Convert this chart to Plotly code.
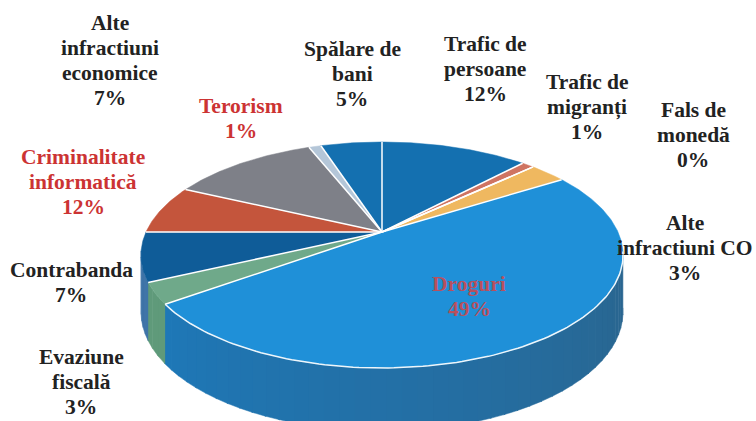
import numpy as np
import plotly.graph_objects as go

categories = ["Trafic de persoane", "Trafic de migranți", "Fals de monedă", "Alte infractiuni CO",
              "Droguri", "Evaziune fiscală", "Contrabanda", "Alte infractiuni economice",
              "Criminalitate informatică", "Terorism", "Spălare de bani"]
values = [12, 1, 0, 3, 49, 3, 7, 7, 12, 1, 5]
label_lines = [["Trafic de", "persoane"], ["Trafic de", "migranți"], ["Fals de", "monedă"],
               ["Alte", "infractiuni CO"], ["Droguri"], ["Evaziune", "fiscală"], ["Contrabanda"],
               ["Alte", "infractiuni", "economice"], ["Criminalitate", "informatică"], ["Terorism"],
               ["Spălare de", "bani"]]

colors = ["#1470b0", "#cf7462", "#d8dde5", "#efb860", "#1f90d8", "#6fa98a", "#0f5c98",
          "#c4553c", "#7e8088", "#b4c6d8", "#1470b0"]
wall_colors = ["#1470b0", "#cf7462", "#d8dde5", "#efb860", "#1c7cc0", "#5f9a7a", "#3f74a8",
               "#c4553c", "#7e8088", "#b4c6d8", "#1470b0"]
text_colors = ["#222222", "#222222", "#222222", "#222222", "#b8505e", "#222222", "#222222",
               "#222222", "#cc3333", "#cc3333", "#222222"]
label_x = [485, 587, 693, 685, 469, 81, 71, 110, 83, 241, 352]
label_y = [69, 107, 135, 248, 296, 382, 282, 60, 182, 118, 74]

CX, CY, A, B, K = 382, 232, 236, 108.3, 0.2035
DEPTH = 55
LINE_H = 25


def project(theta):
    u, v = np.sin(theta), np.cos(theta)
    w = 1 + K * v
    return CX + A * u / w, CY - B * v / w


def depth_at(theta):
    return DEPTH + 8 * (-np.cos(theta))


total = sum(values)
edges = np.concatenate([[0], np.cumsum(values)]) / total * 2 * np.pi
fig = go.Figure()


def poly(x, y, color):
    fig.add_trace(go.Scatter(x=x, y=y, mode="lines", fill="toself", fillcolor=color,
                             line=dict(width=0.5, color=color), hoverinfo="skip", showlegend=False))


def mix(c1, c2, t):
    a = [int(c1[i:i + 2], 16) for i in (1, 3, 5)]
    b = [int(c2[i:i + 2], 16) for i in (1, 3, 5)]
    return "rgb(%d,%d,%d)" % tuple(a[i] + (b[i] - a[i]) * t for i in range(3))


# side wall, split into thin strips to shade it
wall_lo, wall_hi = np.radians(100), np.radians(260)
for i in range(len(values)):
    lo, hi = max(edges[i], wall_lo), min(edges[i + 1], wall_hi)
    if hi <= lo:
        continue
    n = max(2, int(np.degrees(hi - lo) / 3))
    steps = np.linspace(lo, hi, n + 1)
    for a0, a1 in zip(steps[:-1], steps[1:]):
        t = np.linspace(a0, a1 + 0.005, 5)
        x, y = project(t)
        d = depth_at(t)
        shade = (wall_hi - (a0 + a1) / 2) / (wall_hi - wall_lo)
        if i == 4:
            col = mix(wall_colors[i], "#2a6690", min(1, shade * 1.05))
        else:
            col = wall_colors[i]
        poly(np.concatenate([x, x[::-1]]), np.concatenate([y, (y + d)[::-1]]), col)

# top face
for i in range(len(values)):
    if values[i] == 0:
        continue
    t = np.linspace(edges[i], edges[i + 1], max(3, int(values[i] * 6)))
    x, y = project(t)
    poly(np.concatenate([[CX], x, [CX]]), np.concatenate([[CY], y, [CY]]), colors[i])

# white separators and rim of the largest slice
for e in edges[:-1]:
    x, y = project(np.array([e]))
    fig.add_trace(go.Scatter(x=[CX, x[0]], y=[CY, y[0]], mode="lines", line=dict(color="white", width=1.5),
                             hoverinfo="skip", showlegend=False))
t = np.linspace(max(edges[4], wall_lo), edges[5], 120)
x, y = project(t)
fig.add_trace(go.Scatter(x=x, y=y, mode="lines", line=dict(color="#eef6fb", width=1.5),
                         hoverinfo="skip", showlegend=False))

for i, name in enumerate(categories):
    lines = label_lines[i] + [f"{values[i]}%"]
    for j, line in enumerate(lines):
        fig.add_annotation(x=label_x[i], y=label_y[i] + (j - (len(lines) - 1) / 2) * LINE_H,
                           xref="x", yref="y", showarrow=False, text=f"<b>{line}</b>",
                           xanchor="center", yanchor="middle",
                           font=dict(family="Liberation Serif", size=21.5, color=text_colors[i]))

fig.update_layout(width=756, height=421, margin=dict(l=0, r=0, t=0, b=0), autosize=False,
                  paper_bgcolor="white", plot_bgcolor="white", showlegend=False,
                  xaxis=dict(range=[0, 756], visible=False, fixedrange=True),
                  yaxis=dict(range=[421, 0], visible=False, fixedrange=True))
fig.write_html("out.html", config={"displayModeBar": False}, default_width=756, default_height=421,
               post_script="document.body.style.margin='0';document.documentElement.style.overflow='hidden';")
